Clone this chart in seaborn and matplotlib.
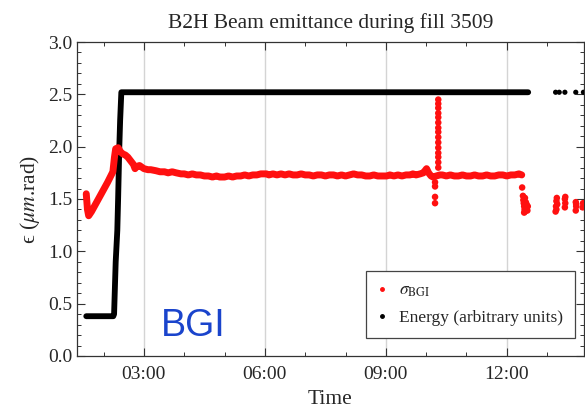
import matplotlib
matplotlib.use("Agg")
import matplotlib.pyplot as plt
from matplotlib.ticker import MultipleLocator, FuncFormatter
from matplotlib.lines import Line2D
import seaborn as sns

# time in hours of the day, emittance / energy
energy_t = [1.57, 2.24, 2.26, 2.30, 2.34, 2.36, 2.39, 2.41, 2.44, 12.53]
energy_v = [0.38, 0.38, 0.40, 0.90, 1.20, 1.50, 2.00, 2.25, 2.52, 2.52]
energy_dot_t = [13.21, 13.30, 13.44, 13.71, 13.90]
energy_dot_v = [2.52, 2.52, 2.52, 2.52, 2.52]

sigma_t = [1.57, 1.60, 1.63, 1.70, 1.80, 1.90, 2.00, 2.10, 2.23, 2.27,
           2.30, 2.36, 2.42, 2.48, 2.54, 2.60, 2.68, 2.74, 2.78, 2.82,
           2.89, 3.00, 3.10, 3.17, 3.30, 3.40, 3.51, 3.60, 3.70, 3.80,
           3.92, 4.00, 4.10, 4.20, 4.30, 4.40, 4.50, 4.60, 4.70, 4.80,
           4.88, 5.00, 5.10, 5.20, 5.30, 5.40, 5.50, 5.60, 5.70, 5.80,
           5.90, 6.04, 6.10, 6.20, 6.30, 6.40, 6.50, 6.60, 6.70, 6.80,
           6.90, 7.00, 7.10, 7.20, 7.30, 7.40, 7.50, 7.60, 7.70, 7.80,
           7.90, 8.00, 8.10, 8.20, 8.30, 8.40, 8.50, 8.60, 8.70, 8.80,
           8.90, 9.02, 9.10, 9.20, 9.30, 9.40, 9.50, 9.60, 9.67, 9.75,
           9.85, 9.93, 9.97, 10.01, 10.06, 10.12, 10.17, 10.25, 10.34, 10.40,
           10.50, 10.60, 10.70, 10.80, 10.90, 11.00, 11.10, 11.20, 11.30, 11.40,
           11.50, 11.60, 11.70, 11.80, 11.90, 12.00, 12.10, 12.20, 12.30, 12.37]
sigma_v = [1.55, 1.40, 1.34, 1.38, 1.45, 1.52, 1.59, 1.66, 1.76, 1.90,
           1.98, 1.99, 1.95, 1.93, 1.92, 1.90, 1.86, 1.83, 1.79, 1.81,
           1.82, 1.79, 1.78, 1.78, 1.77, 1.76, 1.76, 1.75, 1.76, 1.75,
           1.74, 1.74, 1.73, 1.74, 1.73, 1.73, 1.72, 1.72, 1.71, 1.72,
           1.71, 1.71, 1.72, 1.71, 1.72, 1.72, 1.73, 1.72, 1.73, 1.73,
           1.74, 1.74, 1.73, 1.74, 1.73, 1.74, 1.73, 1.74, 1.73, 1.73,
           1.74, 1.73, 1.73, 1.72, 1.73, 1.73, 1.72, 1.73, 1.73, 1.72,
           1.73, 1.72, 1.73, 1.74, 1.73, 1.73, 1.72, 1.72, 1.73, 1.72,
           1.72, 1.72, 1.73, 1.72, 1.73, 1.72, 1.73, 1.73, 1.74, 1.73,
           1.74, 1.75, 1.77, 1.79, 1.75, 1.72, 1.71, 1.72, 1.73, 1.73,
           1.72, 1.73, 1.72, 1.72, 1.73, 1.72, 1.72, 1.73, 1.72, 1.72,
           1.73, 1.72, 1.72, 1.73, 1.73, 1.72, 1.73, 1.73, 1.74, 1.73]

spike_t = [10.30, 10.30, 10.30, 10.30, 10.30, 10.30, 10.30, 10.30, 10.30, 10.30,
           10.30, 10.30, 10.30, 10.30, 10.30, 10.22, 10.22, 10.22, 10.22]
spike_v = [1.80, 1.85, 1.90, 1.94, 1.99, 2.04, 2.09, 2.14, 2.18, 2.23,
           2.28, 2.32, 2.37, 2.41, 2.45, 1.66, 1.62, 1.52, 1.46]

tail_t = [12.38, 12.40, 12.41, 12.42, 12.43, 12.44, 12.45, 12.46, 12.47, 12.48,
          12.49, 12.50, 12.51, 12.52, 12.45, 12.43, 13.21, 13.22, 13.23, 13.24,
          13.25, 13.23, 13.44, 13.45, 13.44, 13.45, 13.71, 13.72, 13.71, 13.72,
          13.88, 13.89]
tail_v = [1.61, 1.53, 1.49, 1.46, 1.43, 1.40, 1.38, 1.44, 1.47, 1.41,
          1.45, 1.42, 1.39, 1.43, 1.51, 1.37, 1.38, 1.43, 1.48, 1.51,
          1.45, 1.40, 1.42, 1.46, 1.50, 1.52, 1.39, 1.43, 1.47, 1.45,
          1.42, 1.46]

red = "#ff1010"

sns.set_style("ticks")
plt.rcParams["font.family"] = ["Liberation Serif", "DejaVu Serif"]
plt.rcParams["mathtext.fontset"] = "stix"

fig = plt.figure(figsize=(5.85, 4.12), dpi=100)
ax = fig.add_axes([0.1316, 0.136, 0.8664, 0.762])

# grid only at major time ticks
for h in [3, 6, 9, 12]:
    ax.axvline(h, color="#d4d4d4", lw=1.0, zorder=0)

sns.lineplot(x=energy_t, y=energy_v, ax=ax, color="black", lw=4.2, sort=False,
             estimator=None, zorder=3)
sns.scatterplot(x=energy_dot_t, y=energy_dot_v, ax=ax, color="black", s=14,
                edgecolor="none", zorder=3)
sns.lineplot(x=sigma_t, y=sigma_v, ax=ax, color=red, lw=5.0, sort=False,
             estimator=None, zorder=4)
sns.scatterplot(x=spike_t, y=spike_v, ax=ax, color=red, s=22, edgecolor="none", zorder=4)
sns.scatterplot(x=tail_t, y=tail_v, ax=ax, color=red, s=22, edgecolor="none", zorder=4)

ax.set_xlim(1.34, 13.91)
ax.set_ylim(0, 3.0)
ax.xaxis.set_major_locator(MultipleLocator(3))
ax.xaxis.set_minor_locator(MultipleLocator(1))
ax.xaxis.set_major_formatter(FuncFormatter(lambda v, p: "%02d:00" % int(round(v))))
ax.yaxis.set_major_locator(MultipleLocator(0.5))
ax.yaxis.set_minor_locator(MultipleLocator(0.1))
ax.yaxis.set_major_formatter(FuncFormatter(lambda v, p: "%.1f" % v))
ax.tick_params(which="both", direction="in", top=True, right=True, color="#333333")
ax.tick_params(which="major", length=6, width=0.8, labelsize=14)
ax.tick_params(axis="x", which="major", pad=7)
ax.tick_params(which="minor", length=3, width=0.7)
for s in ax.spines.values():
    s.set_color("#333333")
    s.set_linewidth(0.9)

ax.set_title("B2H Beam emittance during fill 3509", fontsize=15.5, pad=10)
ax.set_xlabel("Time", fontsize=15.5, labelpad=5)
ax.set_ylabel("\u03f5 ($\\mu m$.rad)", fontsize=15.5, labelpad=4)

ax.text(0.166, 0.064, "BGI", transform=ax.transAxes, fontsize=27,
        family="Liberation Sans", color="#1a44cc")

handles = [
    Line2D([], [], ls="none", marker="o", ms=2.5, color=red),
    Line2D([], [], ls="none", marker="o", ms=2.5, color="black"),
]
leg = ax.legend(handles, [r"$\sigma_{\rm BGI}$", "Energy (arbitrary units)"],
                loc="lower right", bbox_to_anchor=(0.982, 0.057), fontsize=12.5,
                frameon=True, fancybox=False, framealpha=1, handlelength=0.5,
                handletextpad=0.7, borderpad=0.7, labelspacing=0.6,
                borderaxespad=0)
leg.get_frame().set_edgecolor("#444444")
leg.get_frame().set_linewidth(0.9)

fig.savefig("out.png", dpi=100)
